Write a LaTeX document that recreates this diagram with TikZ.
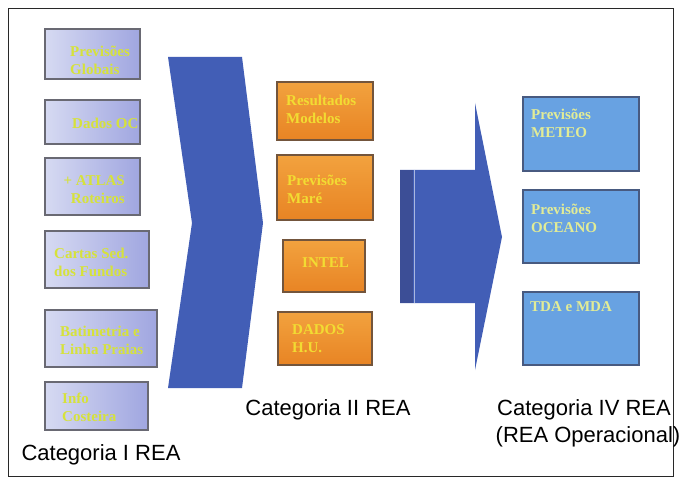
\documentclass[tikz,border=0pt]{standalone}
\usepackage{fontspec}
\setmainfont{Liberation Serif}
\newfontfamily\labelfont{Liberation Sans}
\definecolor{framegray}{RGB}{40,40,40}
\definecolor{lavlight}{RGB}{214,218,242}
\definecolor{lavdark}{RGB}{160,166,224}
\definecolor{lavedge}{RGB}{105,105,115}
\definecolor{orlight}{RGB}{242,162,62}
\definecolor{ordark}{RGB}{232,132,36}
\definecolor{oredge}{RGB}{115,85,60}
\definecolor{skyfill}{RGB}{104,162,226}
\definecolor{skyedge}{RGB}{72,90,128}
\definecolor{arrowblue}{RGB}{66,94,182}
\definecolor{arrowdark}{RGB}{60,78,150}
\definecolor{txtyellow}{RGB}{214,226,58}
\definecolor{txtgold}{RGB}{242,220,50}
\definecolor{txtpale}{RGB}{226,236,150}
\tikzset{
  lbox/.style={draw=lavedge, line width=1.6pt, left color=lavlight, right color=lavdark, inner sep=0pt},
  obox/.style={draw=oredge, line width=1.6pt, top color=orlight, bottom color=ordark, inner sep=0pt},
  rbox/.style={draw=skyedge, line width=1.4pt, fill=skyfill, inner sep=0pt},
  boxtext/.style={font=\fontsize{15}{18}\selectfont\bfseries, inner sep=0pt, align=left, anchor=west},
  cat/.style={font=\labelfont\fontsize{22}{26}\selectfont, text=black, inner sep=0pt}
}
\begin{document}
\begin{tikzpicture}[x=1pt, y=-1pt]
\useasboundingbox (0,0) rectangle (681,484);
\fill[white] (0,0) rectangle (681,484);
\draw[framegray, line width=0.9pt] (8,8) rectangle (673,476);

% Category I boxes
\node[lbox, minimum width=95pt, minimum height=50pt] (l1) at (92.5,54) {};
\node[lbox, minimum width=95pt, minimum height=44pt] (l2) at (92.5,122) {};
\node[lbox, minimum width=95pt, minimum height=57pt] (l3) at (92.5,186.5) {};
\node[lbox, minimum width=104pt, minimum height=57pt] (l4) at (97,259.5) {};
\node[lbox, minimum width=112pt, minimum height=57pt] (l5) at (101,338.5) {};
\node[lbox, minimum width=103pt, minimum height=48pt] (l6) at (96.5,406) {};
\node[boxtext, text=txtyellow] (l1t) at (70,60) {Previsões\\Globais};
\node[boxtext, text=txtyellow] (l2t) at (72,123) {Dados OC};
\node[boxtext, text=txtyellow, align=right, anchor=east] (l3t) at (125,190) {+ ATLAS\\Roteiros};
\node[boxtext, text=txtyellow] (l4t) at (54,262) {Cartas Sed.\\dos Fundos};
\node[boxtext, text=txtyellow] (l5t) at (60,340) {Batimetria e\\Linha Praias};
\node[boxtext, text=txtyellow] (l6t) at (62,407) {Info\\Costeira};

% Chevron between Category I and II
\fill[arrowblue] (168,57) -- (242,57) -- (263,223) -- (242,388) -- (168,388) -- (192,223) -- cycle;

% Category II boxes
\node[obox, minimum width=96pt, minimum height=58pt] (m1) at (325,111) {};
\node[obox, minimum width=96pt, minimum height=65pt] (m2) at (325,187.5) {};
\node[obox, minimum width=82pt, minimum height=52pt] (m3) at (324,266) {};
\node[obox, minimum width=94pt, minimum height=53pt] (m4) at (325,338.5) {};
\node[boxtext, text=txtgold] (m1t) at (286,109) {Resultados\\Modelos};
\node[boxtext, text=txtgold] (m2t) at (287,189.5) {Previsões\\Maré};
\node[boxtext, text=txtgold] (m3t) at (302,263) {INTEL};
\node[boxtext, text=txtgold] (m4t) at (292,338.5) {DADOS\\H.U.};

% Block arrow between Category II and IV
\fill[arrowblue] (400,170) -- (475,170) -- (475,103) -- (502,237) -- (475,370) -- (475,303) -- (400,303) -- cycle;
\fill[arrowdark] (400,170) rectangle (413,303);
\draw[white!55!arrowblue, line width=0.9pt] (414,170) -- (414,303);

% Category IV boxes
\node[rbox, minimum width=116pt, minimum height=74pt] (r1) at (581,134) {};
\node[rbox, minimum width=116pt, minimum height=73pt] (r2) at (581,226.5) {};
\node[rbox, minimum width=116pt, minimum height=73pt] (r3) at (581,328.5) {};
\node[boxtext, text=txtpale] (r1t) at (531,123) {Previsões\\METEO};
\node[boxtext, text=txtpale] (r2t) at (531,218) {Previsões\\OCEANO};
\node[boxtext, text=txtpale] (r3t) at (530,307) {TDA e MDA};

% Category captions
\node[cat] (c1) at (101,455) {Categoria I REA};
\node[cat] (c2) at (328,410) {Categoria II REA};
\node[cat] (c4a) at (584,410) {Categoria IV REA};
\node[cat] (c4b) at (588,437) {(REA Operacional)};
\end{tikzpicture}
\end{document}
